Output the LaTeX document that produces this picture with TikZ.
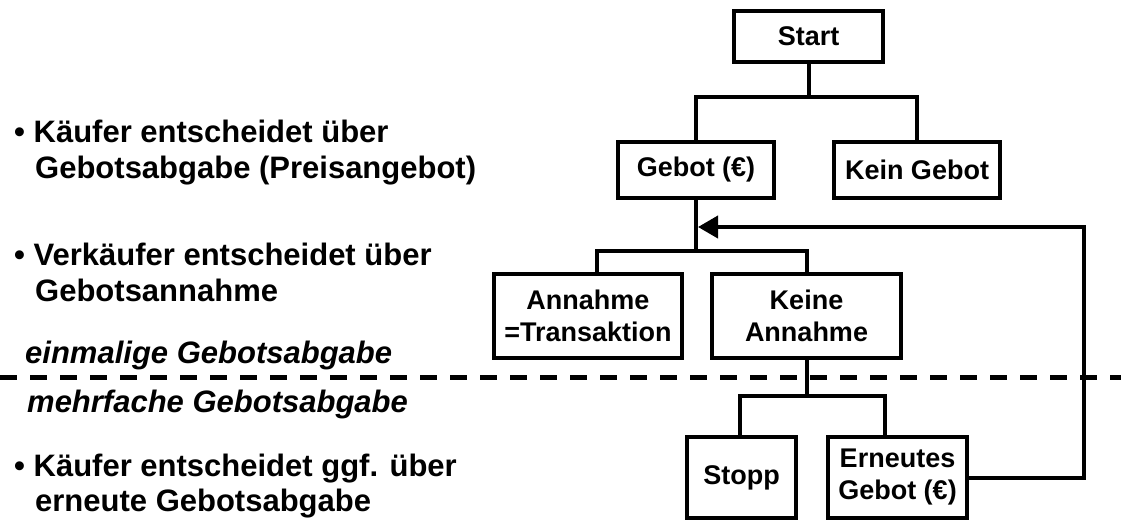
\documentclass[tikz,border=0pt]{standalone}
\usepackage{fontspec}
\setmainfont{Liberation Sans}
\usetikzlibrary{arrows.meta}
\newcommand\bxfont{\bfseries\fontsize{27}{32}\selectfont}
\newcommand\ltxfont{\bfseries\fontsize{31}{36}\selectfont}
\begin{document}
\begin{tikzpicture}[x=1pt,y=-1pt,
  box/.style={draw, line width=4pt, inner sep=0pt, font=\bxfont, align=center},
  conn/.style={line width=4pt},
  lt/.style={anchor=base west, inner sep=0pt, font=\ltxfont},
  lti/.style={anchor=base west, inner sep=0pt, font=\ltxfont\itshape},
  ]
\useasboundingbox (0,0) rectangle (1121,523);
\fill[white] (0,0) rectangle (1121,523);

% boxes
\node[box, minimum width=149pt, minimum height=51pt] (start) at (808.5,36.5) {Start};
\node[box, minimum width=156pt, minimum height=56pt] (gebot) at (696,170) {Gebot (€)};
\node[box, minimum width=166pt, minimum height=56pt] (kein) at (917,170) {Kein Gebot};
\node[box, minimum width=188pt, minimum height=84pt] (annahme) at (588,316) {Annahme\\=Transaktion};
\node[box, minimum width=189pt, minimum height=84pt] (keine) at (806.5,316) {Keine\\Annahme};
\node[box, minimum width=109pt, minimum height=81pt] (stopp) at (741.5,477.5) {Stopp};
\node[box, minimum width=139pt, minimum height=81pt] (erneut) at (897.5,477.5) {Erneutes\\Gebot (€)};

% connectors
\coordinate (b1) at (808.5,97);
\draw[conn] (start.south) -- (b1);
\draw[conn] (gebot.north) |- (b1) -| (kein.north);
\coordinate (b2) at (696,251);
\draw[conn] (gebot.south) -- (b2);
\draw[conn] ([xshift=9pt]annahme.north) |- (b2) -| (keine.north);
\coordinate (b3) at (806.5,396);
\draw[conn] (keine.south) -- (b3);
\draw[conn] ([xshift=-1.5pt]stopp.north) |- (b3) -| ([xshift=-12.5pt]erneut.north);
\coordinate (rc) at (1084,227);
\coordinate (loop) at (698,227);
\draw[conn, -{Triangle[length=20pt,width=22pt]}] (erneut.east) -| (rc) -- (loop);

% dashed separator
\coordinate (dl) at (0,377);
\coordinate (dr) at (1121,377);
\draw[line width=5pt, dash pattern=on 17pt off 13pt] (dl) -- (dr);

% left texts
\node[lt] (l1) at (14,142) {• Käufer entscheidet über};
\node[lt] (l2) at (35,178) {Gebotsabgabe (Preisangebot)};
\node[lt] (l3) at (14,265) {• Verkäufer entscheidet über};
\node[lt] (l4) at (35,301) {Gebotsannahme};
\node[lti] (l5) at (25,363) {einmalige Gebotsabgabe};
\node[lti] (l6) at (27,412) {mehrfache Gebotsabgabe};
\node[lt] (l7) at (14,476) {• Käufer entscheidet ggf. über};
\node[lt] (l8) at (35,511) {erneute Gebotsabgabe};
\end{tikzpicture}
\end{document}
